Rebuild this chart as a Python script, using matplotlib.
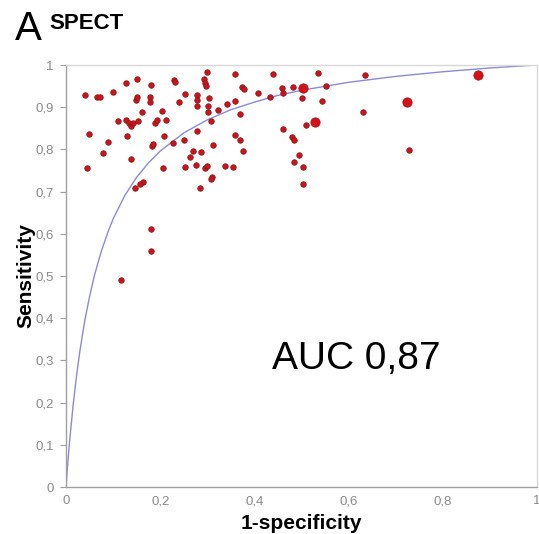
import matplotlib
matplotlib.use("Agg")
import matplotlib.pyplot as plt

plt.rcParams['font.family'] = ['Liberation Sans', 'DejaVu Sans']

# study points (1-specificity, sensitivity)
fpr = [0.040, 0.065, 0.072, 0.100, 0.127, 0.151, 0.180, 0.230, 0.231, 0.299,
       0.293, 0.296, 0.297, 0.149, 0.151, 0.178, 0.178, 0.161, 0.203, 0.240,
       0.252, 0.279, 0.279, 0.279, 0.304, 0.301, 0.301, 0.323, 0.110, 0.127,
       0.133, 0.137, 0.143, 0.152, 0.189, 0.194, 0.212, 0.308, 0.049, 0.130,
       0.209, 0.279, 0.089, 0.182, 0.185, 0.228, 0.251, 0.313, 0.079, 0.270,
       0.286, 0.263, 0.137, 0.045, 0.205, 0.252, 0.275, 0.296, 0.299, 0.309,
       0.307, 0.163, 0.157, 0.147, 0.285, 0.359, 0.439, 0.534, 0.635, 0.373,
       0.378, 0.408, 0.433, 0.458, 0.461, 0.481, 0.552, 0.500, 0.543, 0.359,
       0.342, 0.369, 0.359, 0.369, 0.376, 0.460, 0.479, 0.484, 0.510, 0.631,
       0.495, 0.484, 0.503, 0.338, 0.354, 0.503, 0.728, 0.180, 0.180, 0.116]
sens = [0.929, 0.924, 0.923, 0.937, 0.957, 0.968, 0.953, 0.964, 0.959, 0.984,
        0.967, 0.957, 0.950, 0.917, 0.923, 0.924, 0.912, 0.888, 0.891, 0.912,
        0.931, 0.929, 0.917, 0.903, 0.921, 0.904, 0.888, 0.893, 0.868, 0.869,
        0.862, 0.856, 0.862, 0.868, 0.862, 0.869, 0.870, 0.867, 0.836, 0.832,
        0.832, 0.844, 0.817, 0.808, 0.812, 0.815, 0.822, 0.810, 0.792, 0.797,
        0.793, 0.781, 0.777, 0.757, 0.755, 0.758, 0.763, 0.757, 0.761, 0.735,
        0.730, 0.722, 0.717, 0.708, 0.709, 0.979, 0.979, 0.982, 0.976, 0.949,
        0.943, 0.933, 0.923, 0.946, 0.934, 0.947, 0.951, 0.921, 0.915, 0.915,
        0.908, 0.885, 0.834, 0.822, 0.796, 0.848, 0.830, 0.822, 0.858, 0.889,
        0.787, 0.771, 0.759, 0.761, 0.758, 0.717, 0.799, 0.612, 0.560, 0.491]

# larger studies
big_fpr = [0.503, 0.529, 0.725, 0.875]
big_sens = [0.945, 0.864, 0.912, 0.976]

# SROC curve
curve_x = [0.0, 0.001, 0.002, 0.003, 0.005, 0.0075, 0.01, 0.015, 0.02, 0.025,
           0.03, 0.04, 0.05, 0.06, 0.075, 0.09, 0.1, 0.125, 0.15, 0.175,
           0.2, 0.25, 0.3, 0.35, 0.4, 0.45, 0.5, 0.6, 0.7, 0.8, 0.9, 1.0]
curve_y = [0.0, 0.015, 0.030, 0.045, 0.073, 0.106, 0.136, 0.192, 0.242, 0.286,
           0.326, 0.395, 0.451, 0.500, 0.559, 0.607, 0.635, 0.691, 0.734, 0.768,
           0.796, 0.839, 0.870, 0.894, 0.912, 0.928, 0.940, 0.959, 0.973, 0.984,
           0.993, 1.0]

ticks = [0, 0.1, 0.2, 0.3, 0.4, 0.5, 0.6, 0.7, 0.8, 0.9, 1]
xticks = [0, 0.2, 0.4, 0.6, 0.8, 1]

fig = plt.figure(figsize=(5.39, 5.34), dpi=100)
ax = fig.add_axes([66 / 539, 1 - 487 / 534, 471 / 539, 422 / 534])

ax.plot(curve_x, curve_y, color='#8a8ad8', lw=1.0, zorder=2)
ax.scatter(fpr, sens, s=16, color='#c8141c', edgecolors='#8c1414',
           linewidths=0.5, zorder=3)
ax.scatter(big_fpr, big_sens, s=45, color='#d41018', edgecolors='#a01010',
           linewidths=0.5, zorder=3)

ax.set_xlim(0, 1)
ax.set_ylim(0, 1)
ax.set_xticks(xticks)
ax.set_yticks(ticks)
ax.set_xticklabels(['0', '0,2', '0,4', '0,6', '0,8', '1'])
ax.set_yticklabels(['0', '0,1', '0,2', '0,3', '0,4', '0,5', '0,6', '0,7',
                    '0,8', '0,9', '1'])
ax.tick_params(axis='x', length=0, pad=6, labelsize=9.5, labelcolor='#8a8a8a')
ax.tick_params(axis='y', length=4, width=0.8, color='#a0a0a0', pad=5,
               labelsize=9.5, labelcolor='#8a8a8a')

for side in ['left', 'bottom']:
    ax.spines[side].set_color('#a0a0a0')
    ax.spines[side].set_linewidth(1.0)
for side in ['top', 'right']:
    ax.spines[side].set_color('#d8d8d8')
    ax.spines[side].set_linewidth(1.0)

ax.set_xlabel('1-specificity', fontsize=15, fontweight='bold', labelpad=5)
ax.set_ylabel('Sensitivity', fontsize=15, fontweight='bold', labelpad=0)

ax.text(0.437, 0.28, 'AUC 0,87', fontsize=28, va='baseline', ha='left',
        color='black')

fig.text(15 / 539, 1 - 40 / 534, 'A', fontsize=29, va='baseline', ha='left')
fig.text(49 / 539, 1 - 29 / 534, 'SPECT', fontsize=16, fontweight='bold',
         va='baseline', ha='left')

fig.savefig('out.png', dpi=100)
